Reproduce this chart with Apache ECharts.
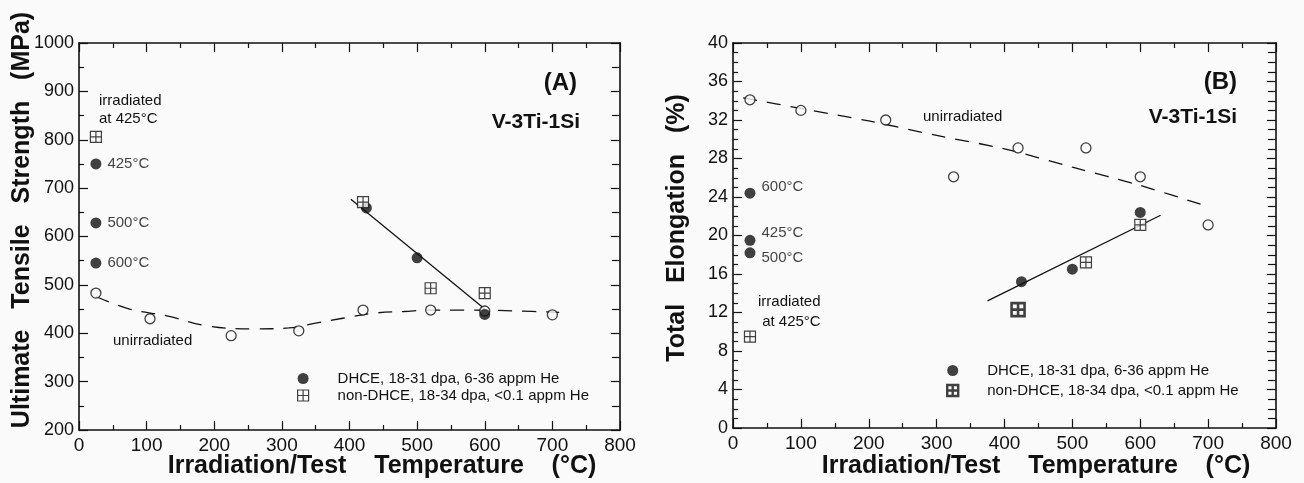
<!DOCTYPE html>
<html>
<head>
<meta charset="utf-8">
<script src="https://cdn.jsdelivr.net/npm/echarts@6/dist/echarts.min.js"></script>
<style>
  html, body { margin: 0; padding: 0; background: #fafafa; }
  #chart { width: 1304px; height: 483px; }
</style>
</head>
<body>
<div id="chart"></div>
<script>
// Panel A: ultimate tensile strength (MPa) vs irradiation/test temperature
var aUnirrT = [25, 105, 225, 325, 420, 520, 600, 700];
var aUnirrUTS = [483, 430, 395, 405, 448, 448, 446, 438];
var aCurveT = [25, 75, 130, 190, 260, 310, 350, 390, 440, 480, 520, 570, 650, 710];
var aCurveUTS = [476, 450, 436, 415, 409, 411, 421, 431, 442, 445, 448, 448, 446, 443];
var aDhceT = [25, 25, 25, 425, 500, 600];
var aDhceUTS = [750, 628, 545, 659, 556, 439];
var aDhceNotes = ['425°C', '500°C', '600°C', '', '', ''];
var aNonT = [25, 420, 520, 600];
var aNonUTS = [806, 671, 493, 483];
var aFitT = [402, 600];
var aFitUTS = [677, 450];

// Panel B: total elongation (%) vs irradiation/test temperature
var bUnirrT = [25, 100, 225, 325, 420, 520, 600, 700];
var bUnirrEl = [34.1, 33.0, 32.0, 26.1, 29.1, 29.1, 26.1, 21.1];
var bCurveT = [15, 100, 200, 300, 400, 500, 600, 700];
var bCurveEl = [34.3, 33.2, 31.9, 30.4, 29.0, 27.1, 25.2, 23.0];
var bDhceT = [25, 25, 25, 425, 500, 600];
var bDhceEl = [24.4, 19.5, 18.2, 15.2, 16.5, 22.4];
var bDhceNotes = ['600°C', '425°C', '500°C', '', '', ''];
var bNonT = [25, 420, 520, 600];
var bNonEl = [9.5, 12.3, 17.2, 21.1];
var bFitT = [375, 630];
var bFitEl = [13.2, 22.1];

var nameDhce = 'DHCE, 18-31 dpa, 6-36 appm He';
var nameNon = 'non-DHCE, 18-34 dpa, <0.1 appm He';

var FONT = '"Liberation Sans", Arial, Helvetica, sans-serif';
var INK = '#111';
var BG = '#fafafa';
var squareIcon = 'path://M0,0H10V10H0Z M5,0V10 M0,5H10';

function pairs(xs, ys) {
  return xs.map(function (x, i) { return [x, ys[i]]; });
}

function plain(v) { return String(v); }

function xAxisOf(grid, pos) {
  return {
    type: 'value', gridIndex: grid, position: pos,
    min: 0, max: 800, interval: 100,
    axisLine: { show: true, onZero: false, lineStyle: { color: INK, width: 1.6 } },
    axisTick: { show: true, inside: true, length: 9, lineStyle: { color: INK, width: 1.2 } },
    minorTick: { show: true, splitNumber: 2, length: 5, lineStyle: { color: INK, width: 1.2 } },
    axisLabel: { show: pos === 'bottom', formatter: plain, color: INK, fontSize: 19, fontFamily: FONT, margin: 6 },
    splitLine: { show: false }, minorSplitLine: { show: false }
  };
}

function yAxisOf(grid, pos, min, max, step, minor) {
  return {
    type: 'value', gridIndex: grid, position: pos,
    min: min, max: max, interval: step,
    axisLine: { show: true, onZero: false, lineStyle: { color: INK, width: 1.6 } },
    axisTick: { show: true, inside: true, length: 9, lineStyle: { color: INK, width: 1.2 } },
    minorTick: { show: true, splitNumber: minor, length: pos === 'right' ? 8 : 5, lineStyle: { color: INK, width: 1.2 } },
    axisLabel: { show: pos === 'left', formatter: plain, color: INK, fontSize: 18, fontFamily: FONT, margin: 5 },
    splitLine: { show: false }, minorSplitLine: { show: false }
  };
}

function openCircles(name, xi, data) {
  return {
    name: name, type: 'scatter', xAxisIndex: xi, yAxisIndex: xi, data: data,
    symbol: 'circle', symbolSize: 10, z: 4,
    itemStyle: { color: BG, borderColor: INK, borderWidth: 1.3 }
  };
}

function lineOf(name, xi, data, dashed, smooth) {
  return {
    name: name, type: 'line', xAxisIndex: xi, yAxisIndex: xi, data: data,
    showSymbol: false, symbol: 'none', smooth: smooth, z: 2,
    lineStyle: { color: INK, width: 1.3, type: dashed ? [14, 10] : 'solid' }
  };
}

function dhceSeries(xi, xs, ys, notes, dy) {
  return {
    name: nameDhce, type: 'scatter', xAxisIndex: xi, yAxisIndex: xi,
    symbol: 'circle', symbolSize: 11, z: 5,
    itemStyle: { color: INK },
    data: pairs(xs, ys).map(function (p, i) {
      if (!notes[i]) return p;
      return {
        value: p,
        label: {
          show: true, formatter: notes[i], position: 'right', distance: 6,
          offset: [0, dy[i]], color: INK, fontSize: 15, fontFamily: FONT
        }
      };
    })
  };
}

function nonSeries(xi, xs, ys, boldIndex) {
  return {
    name: nameNon, type: 'scatter', xAxisIndex: xi, yAxisIndex: xi,
    symbol: squareIcon, symbolSize: 11, z: 5,
    itemStyle: { color: BG, borderColor: INK, borderWidth: 1.2 },
    data: pairs(xs, ys).map(function (p, i) {
      if (i !== boldIndex) return p;
      return { value: p, symbolSize: 13, itemStyle: { borderWidth: 2.6 } };
    })
  };
}

function legendOf(left, top, gap, bold) {
  return {
    orient: 'vertical', left: left, top: top, padding: 0,
    itemGap: gap, itemWidth: 11, itemHeight: 11, selectedMode: false,
    textStyle: { color: INK, fontSize: 15, fontFamily: FONT, lineHeight: 17, padding: [0, 0, 0, 24] },
    data: [
      { name: nameDhce, icon: 'circle' },
      { name: nameNon, icon: squareIcon, itemStyle: bold ? { borderWidth: 2.4 } : { borderWidth: 1.2 } }
    ]
  };
}

function txt(x, y, s, opt) {
  opt = opt || {};
  return {
    type: 'text', x: x, y: y, rotation: opt.rot || 0, silent: true,
    style: {
      text: s, fill: INK, fontFamily: FONT,
      fontSize: opt.size || 15, fontWeight: opt.bold ? 'bold' : 'normal',
      align: opt.align || 'left', verticalAlign: 'middle', lineHeight: opt.lh || 18
    }
  };
}

var chart = echarts.init(document.getElementById('chart'));

var option = {
  backgroundColor: BG,
  animation: false,
  grid: [
    { left: 79, right: 684, top: 43, bottom: 53, outerBoundsMode: 'none' },
    { left: 733, right: 28, top: 43, bottom: 55, outerBoundsMode: 'none' }
  ],
  xAxis: [xAxisOf(0, 'bottom'), xAxisOf(0, 'top'), xAxisOf(1, 'bottom'), xAxisOf(1, 'top')],
  yAxis: [
    yAxisOf(0, 'left', 200, 1000, 100, 2), yAxisOf(0, 'right', 200, 1000, 100, 2),
    yAxisOf(1, 'left', 0, 40, 4, 4), yAxisOf(1, 'right', 0, 40, 4, 4)
  ],
  legend: [legendOf(297, 370, 0, false), legendOf(946, 362, 3, true)],
  series: [
    lineOf('unirradiated A curve', 0, pairs(aCurveT, aCurveUTS), true, 0.4),
    lineOf('DHCE A fit', 0, pairs(aFitT, aFitUTS), false, false),
    openCircles('unirradiated A', 0, pairs(aUnirrT, aUnirrUTS)),
    dhceSeries(0, aDhceT, aDhceUTS, aDhceNotes, [0, 0, 0]),
    nonSeries(0, aNonT, aNonUTS, -1),

    lineOf('unirradiated B curve', 2, pairs(bCurveT, bCurveEl), true, 0.3),
    lineOf('DHCE B fit', 2, pairs(bFitT, bFitEl), false, false),
    openCircles('unirradiated B', 2, pairs(bUnirrT, bUnirrEl)),
    dhceSeries(2, bDhceT, bDhceEl, bDhceNotes, [-6, -7, 5]),
    nonSeries(2, bNonT, bNonEl, 1)
  ],
  graphic: [
    // panel A texts
    txt(99, 110, 'irradiated\nat 425°C'),
    txt(113, 341, 'unirradiated'),
    txt(577, 83, '(A)', { bold: true, size: 24, align: 'right' }),
    txt(580, 122, 'V-3Ti-1Si', { bold: true, size: 21, align: 'right' }),
    txt(22, 220, 'Ultimate   Tensile   Strength   (MPa)', { bold: true, size: 25, align: 'center', rot: Math.PI / 2 }),
    txt(382, 466, 'Irradiation/Test    Temperature    (°C)', { bold: true, size: 25, align: 'center' }),
    // panel B texts
    txt(758, 312, 'irradiated\n at 425°C', { lh: 20 }),
    txt(923, 117, 'unirradiated'),
    txt(1237, 82, '(B)', { bold: true, size: 24, align: 'right' }),
    txt(1237, 117, 'V-3Ti-1Si', { bold: true, size: 21, align: 'right' }),
    txt(677, 228, 'Total   Elongation   (%)', { bold: true, size: 25, align: 'center', rot: Math.PI / 2 }),
    txt(1036, 466, 'Irradiation/Test    Temperature    (°C)', { bold: true, size: 25, align: 'center' })
  ]
};

chart.setOption(option);
</script>
</body>
</html>
